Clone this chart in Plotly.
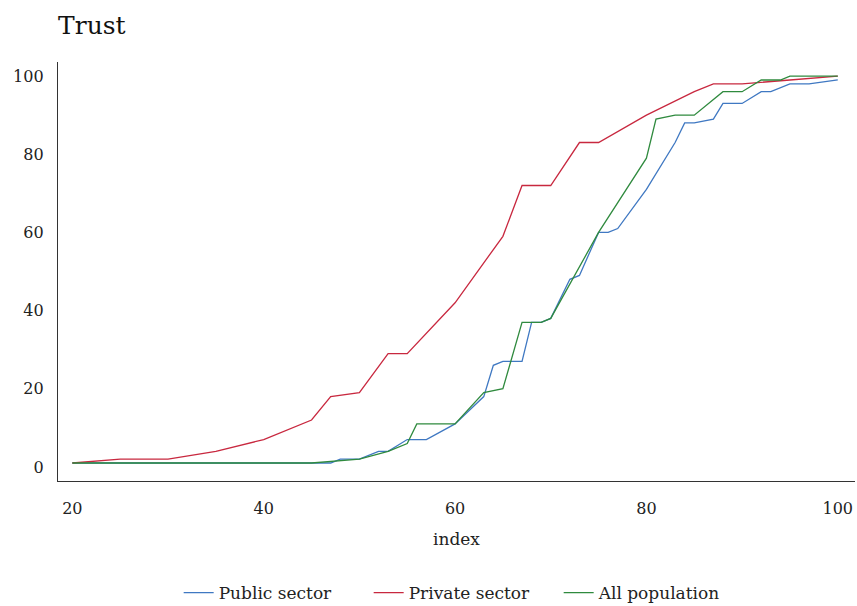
import plotly.graph_objects as go

# Public sector
public_x = [20, 45, 47, 48, 50, 52, 53, 55, 57, 60, 63, 64, 65, 67, 68, 69, 70, 72, 73, 75, 76, 77, 80, 83, 84, 85, 87, 88, 90, 92, 93, 95, 97, 100]
public_y = [1, 1, 1, 2, 2, 4, 4, 7, 7, 11, 18, 26, 27, 27, 37, 37, 38, 48, 49, 60, 60, 61, 71, 83, 88, 88, 89, 93, 93, 96, 96, 98, 98, 99]

# Private sector
private_x = [20, 25, 30, 35, 40, 45, 47, 50, 53, 55, 60, 65, 67, 70, 73, 75, 80, 85, 87, 90, 95, 100]
private_y = [1, 2, 2, 4, 7, 12, 18, 19, 29, 29, 42, 59, 72, 72, 83, 83, 90, 96, 98, 98, 99, 100]

# All population
all_x = [20, 45, 50, 53, 55, 56, 60, 63, 65, 67, 69, 70, 75, 80, 81, 83, 85, 88, 90, 92, 94, 95, 100]
all_y = [1, 1, 2, 4, 6, 11, 11, 19, 20, 37, 37, 38, 60, 79, 89, 90, 90, 96, 96, 99, 99, 100, 100]

x_ticks = [20, 40, 60, 80, 100]
y_ticks = [0, 20, 40, 60, 80, 100]

FONT = "DejaVu Serif"
C_BLUE = "#3f78c2"
C_RED = "#c8283f"
C_GREEN = "#2f8a3e"

fig = go.Figure()
fig.add_trace(go.Scatter(x=public_x, y=public_y, mode="lines", name="Public sector",
                         line=dict(color=C_BLUE, width=1.3)))
fig.add_trace(go.Scatter(x=private_x, y=private_y, mode="lines", name="Private sector",
                         line=dict(color=C_RED, width=1.3)))
fig.add_trace(go.Scatter(x=all_x, y=all_y, mode="lines", name="All population",
                         line=dict(color=C_GREEN, width=1.3)))

fig.update_layout(
    width=857, height=606,
    margin=dict(l=58, r=2, t=62, b=125, autoexpand=False),
    paper_bgcolor="white", plot_bgcolor="white",
    font=dict(family=FONT, color="#222222", size=16),
    title=dict(text="Trust", x=58 / 857, xref="container", xanchor="left",
               y=1 - 25 / 606, yref="container", yanchor="middle",
               font=dict(family=FONT, size=25, color="#111111")),
    legend=dict(orientation="h", x=0.509, xanchor="center",
                y=1 - 593 / 606, yref="container", yanchor="middle",
                font=dict(family=FONT, size=17, color="#222222"),
                itemwidth=30, entrywidth=145, entrywidthmode="pixels",
                bgcolor="rgba(0,0,0,0)"),
    showlegend=True,
)
fig.update_xaxes(range=[18.5, 101.8], tickvals=x_ticks, showgrid=False, zeroline=False,
                 showline=True, linecolor="#333333", linewidth=1.3, ticks="",
                 ticklabelstandoff=13,
                 title=dict(text="index", standoff=15, font=dict(family=FONT, size=17)))
fig.update_yaxes(range=[-3.6, 103.6], tickvals=y_ticks, showgrid=False, zeroline=False,
                 showline=True, linecolor="#333333", linewidth=1.3, ticks="",
                 ticklabelstandoff=10)

fig.write_html("out.html")
